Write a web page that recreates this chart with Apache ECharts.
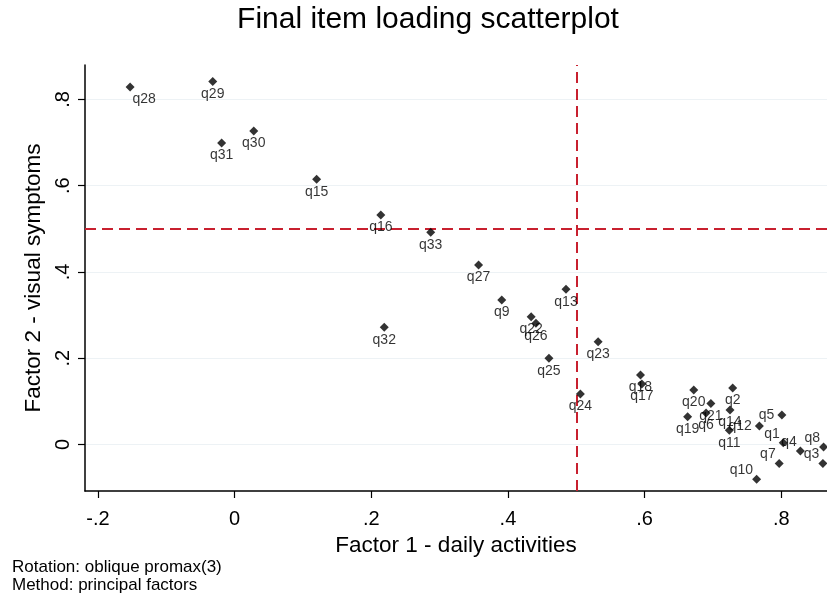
<!DOCTYPE html>
<html>
<head>
<meta charset="utf-8">
<script src="https://cdn.jsdelivr.net/npm/echarts@6/dist/echarts.min.js"></script>
<style>
html,body{margin:0;padding:0;background:#fff;}
#chart{width:827px;height:596px;}
</style>
</head>
<body>
<div id="chart"></div>
<script>
// ---- Data ----
const itemNames = ['q28','q29','q31','q30','q15','q16','q33','q27','q9','q13','q22','q26','q32','q25','q23','q24','q18','q17','q20','q2','q21','q6','q14','q19','q11','q12','q5','q1','q4','q8','q3','q7','q10'];
const factor1 = [-0.153,-0.032,-0.019,0.028,0.120,0.214,0.287,0.357,0.391,0.485,0.434,0.441,0.219,0.460,0.532,0.506,0.594,0.596,0.672,0.729,0.697,0.690,0.725,0.663,0.724,0.768,0.801,0.803,0.828,0.862,0.861,0.797,0.764];
const factor2 = [0.829,0.842,0.699,0.727,0.615,0.532,0.492,0.416,0.335,0.360,0.296,0.281,0.272,0.200,0.238,0.117,0.161,0.140,0.126,0.131,0.095,0.073,0.080,0.064,0.033,0.043,0.068,0.004,-0.015,-0.006,-0.044,-0.044,-0.081];
const xTicks = [-0.2, 0, 0.2, 0.4, 0.6, 0.8];
const yTicks = [0, 0.2, 0.4, 0.6, 0.8];
const xCutoff = 0.5;
const yCutoff = 0.5;
const titleText = 'Final item loading scatterplot';
const xTitle = 'Factor 1 - daily activities';
const yTitle = 'Factor 2 - visual symptoms';
const noteLines = ['Rotation: oblique promax(3)', 'Method: principal factors'];

// label placement (style only)
const leftLabels = ['q5','q12'];
const upperLeftLabels = ['q1','q4','q8','q3','q7','q10'];
const lowerRightLabels = ['q28'];

const FONT = 'Liberation Sans, Arial, Helvetica, sans-serif';
const fmt = v => { if (Math.abs(v) < 1e-9) return '0'; return v.toFixed(1).replace('0.', '.'); };

const points = itemNames.map((n, i) => {
  const item = { name: n, value: [factor1[i], factor2[i]] };
  if (leftLabels.includes(n)) item.label = { position: 'left', distance: 3 };
  else if (upperLeftLabels.includes(n)) item.label = { position: 'left', distance: 1, offset: [2, -9] };
  else if (lowerRightLabels.includes(n)) item.label = { position: 'bottom', distance: 1, offset: [14, 0] };
  return item;
});

const chart = echarts.init(document.getElementById('chart'), null, { renderer: 'canvas' });
chart.setOption({
  animation: false,
  backgroundColor: '#ffffff',
  grid: { left: 85, right: 0, top: 65, bottom: 105, containLabel: false },
  xAxis: {
    type: 'value', min: -0.219, max: 0.867,
    axisLine: { show: true, onZero: false, lineStyle: { color: '#000', width: 1.5 } },
    axisTick: { show: true, customValues: xTicks, length: 7, lineStyle: { color: '#000', width: 1.2 } },
    axisLabel: { customValues: xTicks, formatter: fmt, color: '#000', fontSize: 20, fontFamily: FONT, margin: 18 },
    splitLine: { show: false },
    name: xTitle, nameLocation: 'middle', nameGap: 39,
    nameTextStyle: { color: '#000', fontSize: 22.5, fontFamily: FONT }
  },
  yAxis: {
    type: 'value', min: -0.108, max: 0.880,
    axisLine: { show: true, onZero: false, lineStyle: { color: '#000', width: 1.5 } },
    axisTick: { show: true, customValues: yTicks, length: 7, lineStyle: { color: '#000', width: 1.2 } },
    axisLabel: { customValues: yTicks, formatter: fmt, rotate: 90, color: '#000', fontSize: 20, fontFamily: FONT, margin: 12 },
    splitLine: { show: false },
    name: yTitle, nameLocation: 'middle', nameGap: 37, nameRotate: 90,
    nameTextStyle: { color: '#000', fontSize: 22.5, fontFamily: FONT }
  },
  series: [
    {
      type: 'scatter', silent: true, data: [], symbolSize: 0, z: 0,
      markLine: {
        silent: true, symbol: 'none', label: { show: false }, z: 0,
        lineStyle: { color: '#edf2f5', type: 'solid', width: 1 },
        data: yTicks.map(v => ({ yAxis: v }))
      }
    },
    {
      type: 'scatter', silent: true, data: [], symbolSize: 0, z: 1,
      markLine: {
        silent: true, symbol: 'none', label: { show: false }, z: 1,
        lineStyle: { color: '#c8202f', type: [11, 6], width: 2 },
        data: [{ xAxis: xCutoff }, { yAxis: yCutoff }]
      }
    },
    {
      type: 'scatter', z: 5,
      symbol: 'diamond', symbolSize: 9,
      itemStyle: { color: '#000' },
      label: { show: true, position: 'bottom', distance: 1, formatter: p => p.name, color: '#000', fontSize: 14, fontFamily: FONT },
      data: points
    }
  ],
  graphic: [
    { type: 'text', x: 428, y: 5, style: { text: titleText, textAlign: 'center', fontSize: 30, fontFamily: FONT, fill: '#000' } },
    { type: 'text', x: 12, y: 558, style: { text: noteLines.join('\n'), fontSize: 17, lineHeight: 18, fontFamily: FONT, fill: '#000' } }
  ]
});
</script>
</body>
</html>
